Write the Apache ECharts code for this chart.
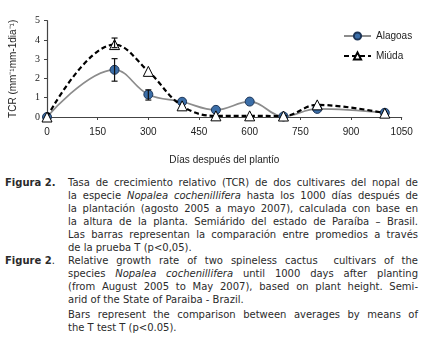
<!DOCTYPE html>
<html>
<head>
<meta charset="utf-8">
<script src="https://cdn.jsdelivr.net/npm/echarts@6/dist/echarts.min.js"></script>
<style>
  html, body { margin: 0; padding: 0; background: #fff; }
  #wrap { position: relative; width: 424px; height: 352px; overflow: hidden; }
  #chart { position: absolute; left: 0; top: 0; width: 424px; height: 170px; }
  .cap { position: absolute; left: 0; width: 424px; font-family: "DejaVu Sans", Verdana, sans-serif; font-size: 10px; color: #2b2b2b; }
  .cap .lbl { position: absolute; left: 5px; top: 0; font-weight: bold; line-height: 13px; }
  .cap .txt { position: absolute; left: 68px; top: 0; width: 350px; }
  .cap .ln { height: 13px; line-height: 13px; white-space: nowrap; text-align: justify; text-align-last: justify; }
  .cap .ln.last { text-align-last: left; }
</style>
</head>
<body>
<div id="wrap">
  <div id="chart"></div>
  <div class="cap" id="capEs" style="top:176px"></div>
  <div class="cap" id="capEn" style="top:254px"></div>
</div>
<script>
// días después del plantío
const days = [0, 200, 300, 400, 500, 600, 700, 800, 1000];
const alagoas = [0, 2.45, 1.17, 0.79, 0.37, 0.8, 0.03, 0.42, 0.22];
const miuda = [0, 3.76, 2.37, 0.58, 0.06, 0.06, 0.05, 0.63, 0.2];

// barras de error: [día, mínimo, máximo]
const errAlagoas = [[200, 1.86, 3.03], [300, 0.88, 1.41]];
const errMiuda = [[200, 3.6, 4.1]];

const yTicks = [0, 1, 2, 3, 4, 5];
const xTicks = [0, 150, 300, 450, 600, 750, 900, 1050];

const capEs = [
  'Tasa de crecimiento relativo (TCR) de dos cultivares del nopal de',
  'la especie <i>Nopalea cochenillifera</i> hasta los 1000 días después de',
  'la plantación (agosto 2005 a mayo 2007), calculada con base en',
  'la altura de la planta. Semiárido del estado de Paraíba – Brasil.',
  'Las barras representan la comparación entre promedios a través',
  'de la prueba T (p&lt;0,05).'
];
const capEn = [
  'Relative growth rate of two spineless cactus&nbsp; cultivars of the',
  'species <i>Nopalea cochenillifera</i> until 1000 days after planting',
  '(from August 2005 to May 2007), based on plant height. Semi-',
  'arid of the State of Paraiba - Brazil.',
  'Bars represent the comparison between averages by means of',
  'the T test T (p&lt;0.05).'
];

function fillCaption(id, label, lines, lastIdx) {
  const el = document.getElementById(id);
  let html = '<div class="lbl">' + label + '</div><div class="txt">';
  lines.forEach((l, i) => {
    const extra = i === 4 && id === 'capEn' ? ' style="margin-top:1.5px"' : '';
    html += '<div class="ln' + (lastIdx.includes(i) ? ' last' : '') + '"' + extra + '>' + l + '</div>';
  });
  el.innerHTML = html + '</div>';
}
fillCaption('capEs', 'Figura 2.', capEs, [5]);
fillCaption('capEn', 'Figure 2', capEn, [3, 5]);
document.querySelector('#capEn .lbl').innerHTML = '<b>Figure 2</b><span style="font-weight:normal">.</span>';

const toPairs = (xs, ys) => xs.map((x, i) => [x, ys[i]]);

const errorBars = (data, z) => ({
  type: 'custom',
  z: z,
  silent: true,
  data: data,
  renderItem: (params, api) => {
    const top = api.coord([api.value(0), api.value(2)]);
    const bot = api.coord([api.value(0), api.value(1)]);
    const w = 3;
    const style = { stroke: '#111', lineWidth: 1.2 };
    return {
      type: 'group',
      children: [
        { type: 'line', shape: { x1: top[0], y1: top[1], x2: bot[0], y2: bot[1] }, style },
        { type: 'line', shape: { x1: top[0] - w, y1: top[1], x2: top[0] + w, y2: top[1] }, style },
        { type: 'line', shape: { x1: bot[0] - w, y1: bot[1], x2: bot[0] + w, y2: bot[1] }, style }
      ]
    };
  }
});

const sans = "'Liberation Sans', Arial, sans-serif";
const serif = "'Liberation Serif', 'DejaVu Serif', serif";

const chart = echarts.init(document.getElementById('chart'));
chart.setOption({
  animation: false,
  grid: { left: 41.7, right: 22.3, top: 20.7, bottom: 51.3 },
  legend: {
    orient: 'vertical',
    left: 338,
    top: 26,
    itemWidth: 27,
    itemHeight: 9,
    itemGap: 10,
    data: ['Alagoas', 'Miúda'],
    textStyle: { fontFamily: sans, fontSize: 10, color: '#222' }
  },
  xAxis: {
    type: 'value',
    min: 0,
    max: 1050,
    interval: 150,
    name: 'Días después del plantío',
    nameLocation: 'middle',
    nameGap: 38,
    nameTextStyle: { fontFamily: sans, fontSize: 10, color: '#222' },
    axisLine: { lineStyle: { color: '#444', width: 1.2 } },
    axisTick: { show: true, length: 3, lineStyle: { color: '#444' } },
    axisLabel: {
      fontFamily: sans, fontSize: 10, color: '#222', margin: 10,
      formatter: v => (xTicks.includes(v) ? String(v) : '')
    },
    splitLine: { show: false }
  },
  yAxis: {
    type: 'value',
    min: 0,
    max: 5,
    interval: 1,
    name: 'TCR (mm⁻¹mm-1dia⁻¹)',
    nameLocation: 'middle',
    nameGap: 29,
    nameTextStyle: { fontFamily: sans, fontSize: 10, color: '#222' },
    axisLine: { show: true, lineStyle: { color: '#444', width: 1.2 } },
    axisTick: { show: true, length: 3, lineStyle: { color: '#444' } },
    axisLabel: {
      fontFamily: serif, fontSize: 10, color: '#222', margin: 7,
      formatter: v => (yTicks.includes(v) ? String(v) : '')
    },
    splitLine: { show: false }
  },
  series: [
    {
      name: 'Alagoas',
      type: 'line',
      data: toPairs(days, alagoas),
      smooth: 0.4,
      symbol: 'circle',
      symbolSize: 9,
      z: 2,
      lineStyle: { color: '#8c8c8c', width: 1.7 },
      itemStyle: { color: '#3b6ea8', borderColor: '#1d3557', borderWidth: 1 }
    },
    {
      name: 'Miúda',
      type: 'line',
      data: toPairs(days, miuda),
      smooth: 0.4,
      symbol: 'triangle',
      symbolSize: 10,
      z: 3,
      lineStyle: { color: '#000', width: 2.2, type: [5, 3] },
      itemStyle: { color: '#fff', borderColor: '#000', borderWidth: 1 }
    },
    errorBars(errAlagoas, 4),
    errorBars(errMiuda, 4)
  ]
});
</script>
</body>
</html>
